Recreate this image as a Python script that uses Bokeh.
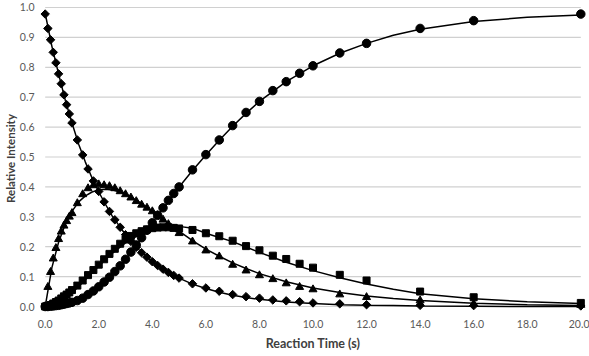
import math
from bokeh.plotting import figure
from bokeh.models import Range1d, FixedTicker, NumeralTickFormatter
from bokeh.embed import file_html
from bokeh.resources import INLINE

# ---- data ----
t = [0.0, 0.1, 0.2, 0.3, 0.4, 0.5, 0.6, 0.7, 0.8, 0.9, 1.0,
     1.2, 1.4, 1.6, 1.8, 2.0, 2.2, 2.4, 2.6, 2.8, 3.0,
     3.2, 3.4, 3.6, 3.8, 4.0, 4.2, 4.4, 4.6, 4.8, 5.0,
     5.5, 6.0, 6.5, 7.0, 7.5, 8.0, 8.5, 9.0, 9.5, 10.0,
     11.0, 12.0, 14.0, 16.0, 20.0]

diamonds = [0.978, 0.930, 0.892, 0.850, 0.815, 0.778, 0.745, 0.708, 0.675, 0.644, 0.614,
            0.557, 0.507, 0.460, 0.420, 0.385, 0.350, 0.318, 0.290, 0.265, 0.240,
            0.218, 0.198, 0.180, 0.165, 0.150, 0.137, 0.125, 0.114, 0.104, 0.095,
            0.076, 0.062, 0.051, 0.040, 0.033, 0.028, 0.022, 0.019, 0.016, 0.012,
            0.009, 0.006, 0.004, 0.003, 0.002]

triangles = [0.000, 0.065, 0.115, 0.160, 0.195, 0.225, 0.250, 0.270, 0.285, 0.300, 0.312,
             0.345, 0.375, 0.395, 0.405, 0.408, 0.405, 0.402, 0.395, 0.385, 0.375,
             0.364, 0.352, 0.340, 0.330, 0.318, 0.305, 0.290, 0.275, 0.260, 0.245,
             0.217, 0.187, 0.167, 0.139, 0.120, 0.104, 0.091, 0.077, 0.065, 0.057,
             0.040, 0.031, 0.020, 0.009, 0.005]

squares = [0.000, 0.002, 0.005, 0.010, 0.015, 0.020, 0.027, 0.034, 0.040, 0.047, 0.055,
           0.070, 0.087, 0.105, 0.122, 0.140, 0.158, 0.176, 0.193, 0.210, 0.224,
           0.236, 0.245, 0.252, 0.258, 0.262, 0.264, 0.265, 0.265, 0.263, 0.261,
           0.256, 0.245, 0.235, 0.220, 0.202, 0.188, 0.170, 0.159, 0.143, 0.130,
           0.106, 0.087, 0.050, 0.031, 0.012]

circles = [0.000, 0.000, 0.001, 0.002, 0.003, 0.004, 0.006, 0.008, 0.010, 0.012, 0.014,
           0.020, 0.028, 0.040, 0.052, 0.066, 0.082, 0.098, 0.117, 0.136, 0.158,
           0.182, 0.206, 0.230, 0.255, 0.280, 0.305, 0.330, 0.355, 0.378, 0.400,
           0.457, 0.508, 0.557, 0.605, 0.649, 0.686, 0.722, 0.752, 0.780, 0.805,
           0.848, 0.880, 0.930, 0.956, 0.978]

# fitted curves
fit_t = [0.0, 0.25, 0.5, 0.75, 1.0, 1.25, 1.5, 1.75, 2.0, 2.25, 2.5, 3.0, 3.5, 4.0, 4.5,
         5.0, 5.5, 6.0, 6.5, 7.0, 7.5, 8.0, 9.0, 10.0, 11.0, 12.0, 13.0, 14.0, 16.0, 18.0, 20.0]
fit_a = [0.980, 0.870, 0.778, 0.690, 0.614, 0.543, 0.483, 0.430, 0.383, 0.342, 0.303, 0.240,
         0.190, 0.150, 0.120, 0.095, 0.075, 0.060, 0.048, 0.038, 0.030, 0.024, 0.015, 0.010,
         0.006, 0.004, 0.003, 0.002, 0.001, 0.000, 0.000]
fit_b = [0.000, 0.130, 0.215, 0.275, 0.318, 0.350, 0.370, 0.383, 0.390, 0.392, 0.390, 0.377,
         0.350, 0.318, 0.285, 0.252, 0.220, 0.192, 0.168, 0.146, 0.127, 0.110, 0.083, 0.062,
         0.047, 0.035, 0.027, 0.020, 0.011, 0.006, 0.003]
fit_c = [0.000, 0.003, 0.012, 0.027, 0.045, 0.067, 0.090, 0.113, 0.135, 0.157, 0.178, 0.213,
         0.240, 0.258, 0.267, 0.268, 0.262, 0.245, 0.231, 0.217, 0.199, 0.181, 0.148, 0.120,
         0.096, 0.075, 0.058, 0.043, 0.026, 0.016, 0.010]
fit_d = [0.000, 0.000, 0.002, 0.006, 0.012, 0.021, 0.032, 0.046, 0.063, 0.083, 0.105, 0.155,
         0.215, 0.280, 0.340, 0.400, 0.455, 0.507, 0.556, 0.603, 0.646, 0.686, 0.752, 0.805,
         0.847, 0.880, 0.907, 0.927, 0.953, 0.967, 0.975]

x_ticks = [0, 2, 4, 6, 8, 10, 12, 14, 16, 18, 20]
y_ticks = [0.0, 0.1, 0.2, 0.3, 0.4, 0.5, 0.6, 0.7, 0.8, 0.9, 1.0]

FONT = "Lato"
GRAY = "#595959"

p = figure(width=589, height=356, output_backend="svg", toolbar_location=None,
           x_range=Range1d(-0.25, 20.25), y_range=Range1d(-0.02, 1.01),
           min_border_left=36, min_border_right=2, min_border_top=4, min_border_bottom=44)
p.outline_line_color = None
p.background_fill_color = "white"
p.border_fill_color = "white"
p.xgrid.visible = False
p.ygrid.visible = False

# horizontal gridlines spanning the data range 0..20
p.segment(x0=[x_ticks[0]] * len(y_ticks), x1=[x_ticks[-1]] * len(y_ticks),
          y0=y_ticks, y1=y_ticks, line_color="#d0d0d0", line_width=1.2)

for ax in (p.xaxis[0], p.yaxis[0]):
    ax.axis_line_color = None
    ax.major_tick_line_color = None
    ax.minor_tick_line_color = None
    ax.major_tick_out = 0
    ax.major_tick_in = 0
    ax.major_label_text_font = FONT
    ax.major_label_text_font_size = "10.5px"
    ax.major_label_text_color = GRAY
    ax.axis_label_text_font = FONT
    ax.axis_label_text_font_style = "bold"
    ax.axis_label_text_color = "#404040"
    ax.formatter = NumeralTickFormatter(format="0.0")

p.xaxis[0].axis_label_text_font_size = "12.5px"
p.yaxis[0].axis_label_text_font_size = "11.5px"
p.xaxis[0].ticker = FixedTicker(ticks=x_ticks)
p.yaxis[0].ticker = FixedTicker(ticks=y_ticks)
p.xaxis[0].axis_label = "Reaction Time (s)"
p.yaxis[0].axis_label = "Relative Intensity"
p.xaxis[0].major_label_standoff = 7
p.xaxis[0].axis_label_standoff = 5
p.yaxis[0].major_label_standoff = 4
p.yaxis[0].axis_label_standoff = 0

# fitted lines
for fy in (fit_a, fit_b, fit_c, fit_d):
    p.line(fit_t, fy, line_color="black", line_width=1.5)

# markers
p.scatter(t, diamonds, marker="square", angle=math.pi / 4, size=6,
          fill_color="black", line_color="black")
p.scatter(t, triangles, marker="triangle", size=8, fill_color="black", line_color="black")
p.scatter(t, squares, marker="square", size=7, fill_color="black", line_color="black")
p.scatter(t, circles, marker="circle", size=8.5, fill_color="black", line_color="black")

open("out.html", "w").write(file_html(p, INLINE))
